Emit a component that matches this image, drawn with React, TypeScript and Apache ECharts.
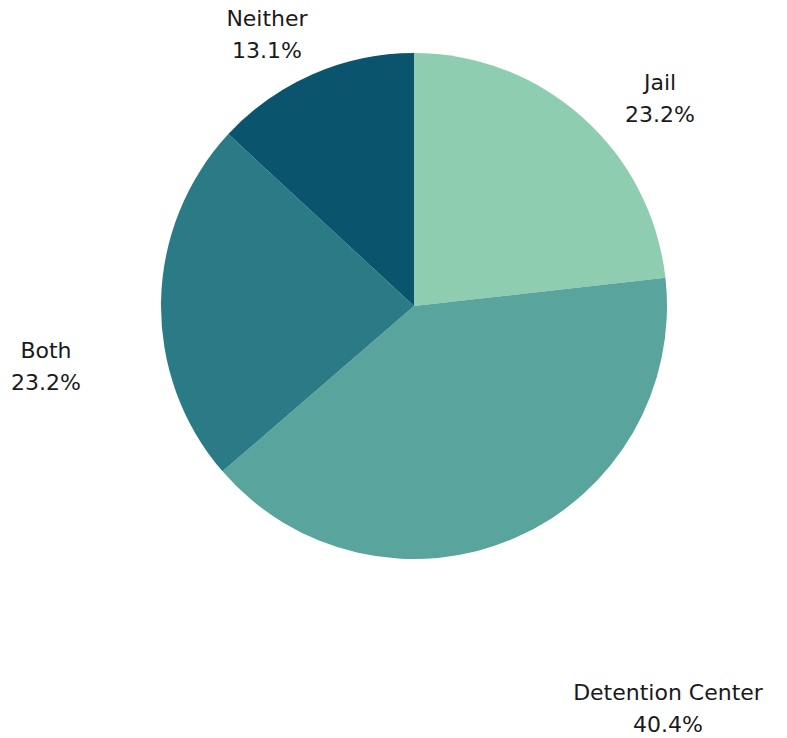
import React, { useEffect, useRef } from "react";
import * as echarts from "echarts";

const categories = ["Jail", "Detention Center", "Both", "Neither"];
const values = [23.2, 40.4, 23.2, 13.1];
const colors = ["#8ECDAF", "#59A59E", "#2A7B86", "#0B546D"];
const labelPos: [number, number][] = [
  [660, 98],
  [668, 708],
  [46, 366],
  [267, 34],
];

export default function App() {
  const ref = useRef<HTMLDivElement>(null);
  useEffect(() => {
    document.body.style.margin = "0";
    const chart = echarts.init(ref.current!, null, { renderer: "svg" });
    chart.setOption({
      animation: false,
      backgroundColor: "#ffffff",
      series: [
        {
          type: "pie",
          center: [414, 306],
          radius: 253,
          startAngle: 90,
          clockwise: true,
          data: categories.map((c, i) => ({
            name: c,
            value: values[i],
            itemStyle: { color: colors[i] },
          })),
          label: {
            show: true,
            position: "outside",
            formatter: (p: any) => `${p.name}\n${p.value.toFixed(1)}%`,
            fontFamily: "DejaVu Sans",
            fontSize: 22,
            lineHeight: 32,
            color: "#1a1a1a",
            align: "center",
          },
          labelLine: { show: false },
          labelLayout: (p: any) => ({
            x: labelPos[p.dataIndex][0],
            y: labelPos[p.dataIndex][1],
            align: "center",
            verticalAlign: "middle",
          }),
        },
      ],
    });
    return () => chart.dispose();
  }, []);
  return <div ref={ref} style={{ width: 787, height: 738 }} />;
}
